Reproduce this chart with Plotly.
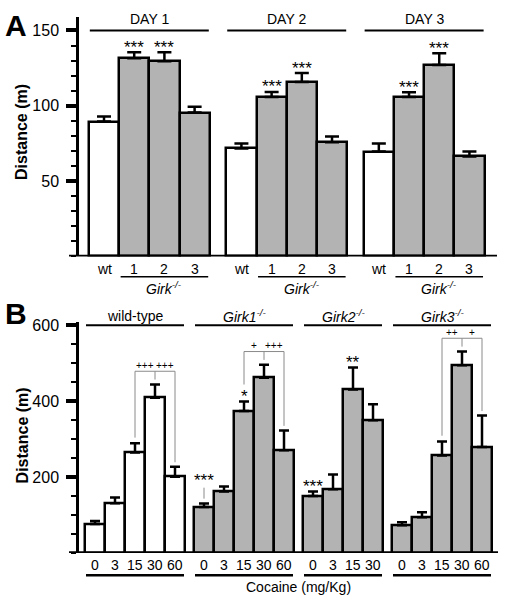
import plotly.graph_objects as go

# ---------------- data: panel A (open field, 3 days) ----------------
a_days = ["DAY 1", "DAY 2", "DAY 3"]
a_genotypes = ["wt", "1", "2", "3"]
a_day1_mean = [89.5, 131.5, 129.5, 95.5]
a_day1_sem = [3.3, 4.0, 6.0, 3.8]
a_day2_mean = [71.7, 105.9, 115.8, 75.7]
a_day2_sem = [3.3, 3.3, 5.9, 3.9]
a_day3_mean = [69.7, 105.9, 127.0, 66.4]
a_day3_sem = [5.3, 3.1, 7.9, 3.3]
a_stars = ["", "***", "***", ""]
a_yticks = [50, 100, 150]
a_ylabel = "Distance (m)"

# ---------------- data: panel B (cocaine dose response) ----------------
b_groups = ["wild-type", "<i>Girk1<sup>-/-</sup></i>", "<i>Girk2<sup>-/-</sup></i>", "<i>Girk3<sup>-/-</sup></i>"]
b_doses_wt = ["0", "3", "15", "30", "60"]
b_doses_g1 = ["0", "3", "15", "30", "60"]
b_doses_g2 = ["0", "3", "15", "30"]
b_doses_g3 = ["0", "3", "15", "30", "60"]
b_wt_mean = [76, 131, 265, 409, 201]
b_wt_sem = [8, 15, 24, 35, 26]
b_g1_mean = [121, 162, 374, 462, 271]
b_g1_sem = [9, 13, 25, 34, 52]
b_g2_mean = [150, 168, 431, 350]
b_g2_sem = [12, 39, 58, 42]
b_g3_mean = [73, 94, 257, 495, 279]
b_g3_sem = [8, 13, 37, 36, 83]
b_wt_stars = ["", "", "", "", ""]
b_g1_stars = ["***", "", "*", "", ""]
b_g2_stars = ["***", "", "**", ""]
b_g3_stars = ["", "", "", "", ""]
# "+" comparisons of 15 vs 30 and 30 vs 60 mg/kg
b_wt_plus = ["+++", "+++"]
b_g1_plus = ["+", "+++"]
b_g2_plus = None
b_g3_plus = ["++", "+"]
b_yticks = [200, 400, 600]
b_xlabel = "Cocaine (mg/Kg)"

# ---------------- styling / layout helpers ----------------
W, H = 505, 600
FONT = "Arial, 'Liberation Sans', Helvetica, sans-serif"
GRAY = "#b3b3b3"
BRK = "#8a8a8a"


def px(xp):
    return xp / W


def py(yp):
    return 1 - yp / H


fig = go.Figure()
shapes = []
ann = []


def text(x, y, s, size=14, xref="x", yref="paper", yshift=0, **kw):
    ann.append(dict(x=x, y=y, xref=xref, yref=yref, text=s, showarrow=False,
                    font=dict(family=FONT, size=size, color="black"),
                    xanchor="center", yanchor="middle", yshift=yshift, **kw))


def line(x0, x1, y0, y1, xref, yref, width, color="black"):
    shapes.append(dict(type="line", x0=x0, x1=x1, y0=y0, y1=y1, xref=xref, yref=yref,
                       line=dict(color=color, width=width), layer="above"))


# ---------------- Panel A ----------------
A_GAP = 0.55
a_sets = [(a_day1_mean, a_day1_sem), (a_day2_mean, a_day2_sem), (a_day3_mean, a_day3_sem)]
for gi, (m, s) in enumerate(a_sets):
    xs = [gi * (len(a_genotypes) + A_GAP) + i for i in range(len(a_genotypes))]
    colors = ["white" if g == "wt" else GRAY for g in a_genotypes]
    fig.add_bar(x=xs, y=m, width=1, xaxis="x", yaxis="y", showlegend=False,
                marker=dict(color=colors, line=dict(color="black", width=2.5)),
                error_y=dict(type="data", symmetric=False, array=s, arrayminus=[0] * len(s),
                             color="black", thickness=2.5, width=7))
    for xi, mi, si, st in zip(xs, m, s, a_stars):
        if st:
            text(xi, mi + si, st, size=17, xref="x", yref="y", yshift=5)
    for xi, g in zip(xs, a_genotypes):
        text(xi, py(266), g, size=14, xref="x")
    # header
    line(xs[0] - 0.47, xs[-1] + 0.47, 150, 150, "x", "y", 2)
    text((xs[0] + xs[-1]) / 2, 150, a_days[gi], size=14, xref="x", yref="y", yshift=11)
    # knockout underline
    line(xs[1] - 0.45, xs[-1] + 0.45, py(274), py(274), "x", "paper", 1.5)
    text(xs[2], py(285), "<i>Girk<sup>-/-</sup></i>", size=14, xref="x")

line(px(69), px(497), 0, 0, "paper", "y", 3.5)

# ---------------- Panel B ----------------
B_GAP = 0.45
b_sets = [
    (b_doses_wt, b_wt_mean, b_wt_sem, b_wt_stars, b_wt_plus, "white"),
    (b_doses_g1, b_g1_mean, b_g1_sem, b_g1_stars, b_g1_plus, GRAY),
    (b_doses_g2, b_g2_mean, b_g2_sem, b_g2_stars, b_g2_plus, GRAY),
    (b_doses_g3, b_g3_mean, b_g3_sem, b_g3_stars, b_g3_plus, GRAY),
]
start = 0.0
for gi, (doses, m, s, stars, plus, col) in enumerate(b_sets):
    xs = [start + i for i in range(len(doses))]
    start += len(doses) + B_GAP
    fig.add_bar(x=xs, y=m, width=1, xaxis="x2", yaxis="y2", showlegend=False,
                marker=dict(color=col, line=dict(color="black", width=2.5)),
                error_y=dict(type="data", symmetric=False, array=s, arrayminus=[0] * len(s),
                             color="black", thickness=2.5, width=5))
    tops = [a + b for a, b in zip(m, s)]
    for k, (xi, tp, st) in enumerate(zip(xs, tops, stars)):
        if not st:
            continue
        if gi == 1 and k == 0:
            # star lifted with a thin connector
            line(xi, xi, tp + 13, tp + 42, "x2", "y2", 1, BRK)
            text(xi, tp + 52, st, size=17, xref="x2", yref="y2", yshift=3)
        else:
            text(xi, tp, st, size=17, xref="x2", yref="y2", yshift=5)
    for xi, d in zip(xs, doses):
        text(xi, py(565), d, size=14, xref="x2")
    line(xs[0] - 0.45, xs[-1] + 0.45, 600, 600, "x2", "y2", 2)
    text((xs[0] + xs[-1]) / 2, 600, b_groups[gi], size=14, xref="x2", yref="y2", yshift=9)
    line(xs[0] - 0.45, xs[-1] + 0.45, py(575), py(575), "x2", "paper", 2.5)
    if plus:
        i15, i30, i60 = 2, 3, 4
        top = max(tops[i15:i60 + 1]) + 35
        gap_l = 45 if stars[i15] else 15
        line(xs[i15], xs[i60], top, top, "x2", "y2", 1, BRK)
        line(xs[i15], xs[i15], top, tops[i15] + gap_l, "x2", "y2", 1, BRK)
        line(xs[i60], xs[i60], top, tops[i60] + 12, "x2", "y2", 1, BRK)
        line(xs[i30], xs[i30], top, top - 22, "x2", "y2", 1, BRK)
        text((xs[i15] + xs[i30]) / 2, top, plus[0], size=10, xref="x2", yref="y2", yshift=6)
        text((xs[i30] + xs[i60]) / 2, top, plus[1], size=10, xref="x2", yref="y2", yshift=6)

line(px(69), px(498), 0, 0, "paper", "y2", 3.5)
text(px(298), py(587), b_xlabel, size=14, xref="paper")

# ---------------- panel letters & y titles ----------------
text(px(16), py(21), "<b>A</b>", size=30, xref="paper")
text(px(16), py(311), "<b>B</b>", size=30, xref="paper")
text(px(22), py(128), "<b>" + a_ylabel + "</b>", size=16, xref="paper", textangle=-90)
text(px(22), py(434), "<b>" + a_ylabel + "</b>", size=16, xref="paper", textangle=-90)

xcommon = dict(showgrid=False, zeroline=False, showline=False, showticklabels=False, ticks="")
ycommon = dict(showgrid=False, zeroline=False, showline=True, linecolor="black", linewidth=2.5,
               ticks="outside", ticklen=10, tickwidth=4, tickcolor="black", tickmode="array",
               tickfont=dict(family=FONT, size=16, color="black"), ticklabelstandoff=4)

fig.update_layout(
    width=W, height=H, autosize=False,
    margin=dict(l=0, r=0, t=0, b=0, pad=0),
    paper_bgcolor="white", plot_bgcolor="rgba(0,0,0,0)",
    barmode="overlay", bargap=0,
    font=dict(family=FONT, color="black"),
    xaxis=dict(domain=[px(79), px(497)], range=[-0.828, 13.013], anchor="y", **xcommon),
    yaxis=dict(domain=[py(253.5), py(12)], range=[0, 159], anchor="x", tickvals=a_yticks,
               minor=dict(ticks="outside", ticklen=5, tickwidth=2, tickcolor="black", tick0=0, dtick=10),
               **ycommon),
    xaxis2=dict(domain=[px(79), px(498)], range=[-0.8, 20.15], anchor="y2", **xcommon),
    yaxis2=dict(domain=[py(552.5), py(320)], range=[0, 608], anchor="x2", tickvals=b_yticks,
                minor=dict(ticks="outside", ticklen=5, tickwidth=2, tickcolor="black", tick0=0, dtick=50),
                **ycommon),
    shapes=shapes, annotations=ann,
)

fig.write_html("out.html", config={"displayModeBar": False},
               post_script="document.body.style.margin='0';")
